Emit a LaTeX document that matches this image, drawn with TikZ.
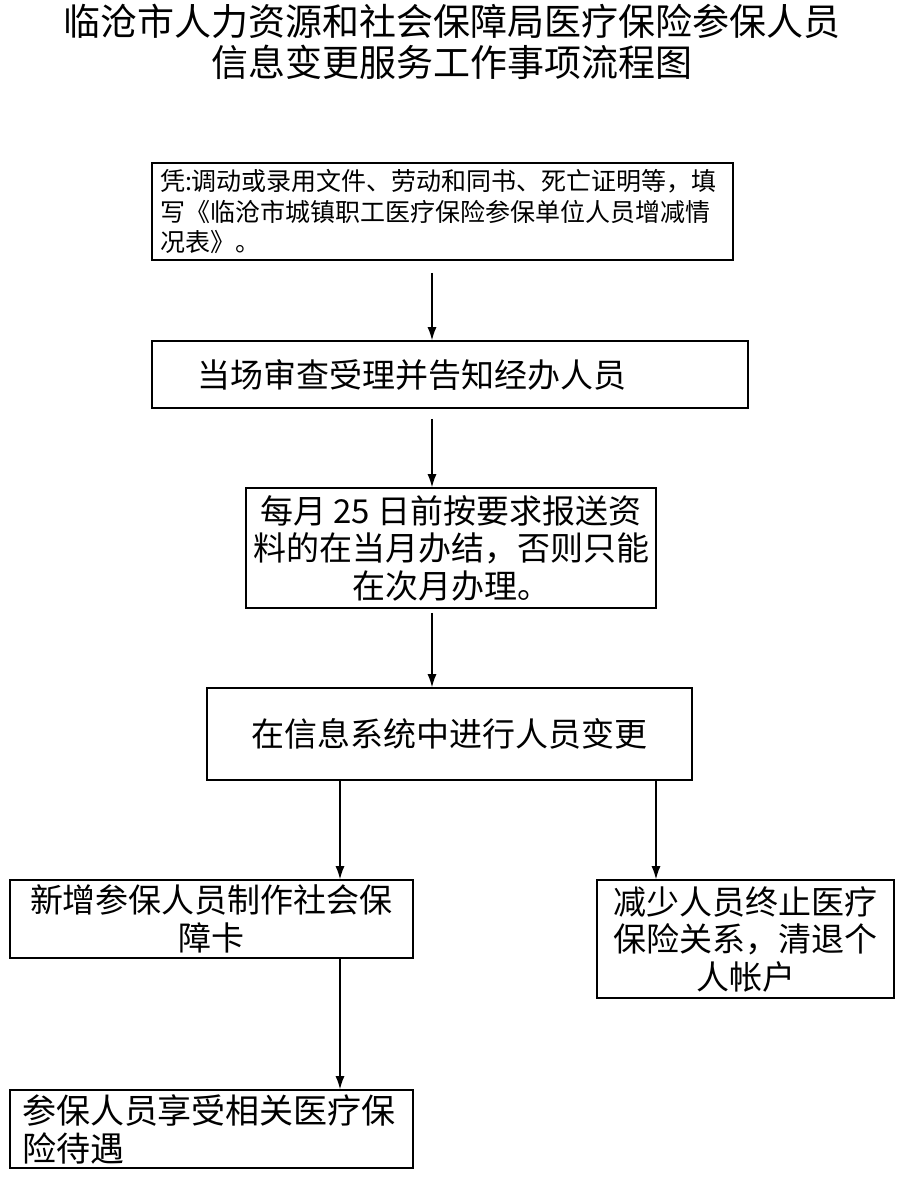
\documentclass[tikz,border=0pt]{standalone}
\usepackage{fontspec}
\setmainfont{Noto Sans CJK SC}
\usetikzlibrary{shapes,arrows.meta}

\begin{document}
\begin{tikzpicture}[x=1pt, y=-1pt, >={Latex[length=13pt,width=9pt]}]
    \tikzstyle{block} = [rectangle, draw, line width=1.6pt, inner sep=0pt,
        font=\fontsize{33}{37.5}\selectfont]
    \tikzstyle{line} = [draw, line width=1.3pt, ->]

    \useasboundingbox (0,0) rectangle (905,1181);

    \node [font=\fontsize{37}{41}\selectfont, align=center] (title) at (452,42)
        {临沧市人力资源和社会保障局医疗保险参保人员\\信息变更服务工作事项流程图};

    \node [block, minimum width=581pt, minimum height=97pt, text width=565pt, align=left,
        font=\fontsize{25}{30.5}\selectfont] (apply) at (442.5,211.5)
        {凭:调动或录用文件、劳动和同书、死亡证明等，填\\写《临沧市城镇职工医疗保险参保单位人员增减情\\况表》。};
    \node [block, minimum width=596pt, minimum height=67pt, text width=506pt, align=left] (accept) at (450,374.5)
        {当场审查受理并告知经办人员};
    \node [block, minimum width=410pt, minimum height=120pt, align=center] (submit) at (451,548)
        {每月 25 日前按要求报送资\\料的在当月办结，否则只能\\在次月办理。};
    \node [block, minimum width=485pt, minimum height=92pt] (change) at (449.5,734)
        {在信息系统中进行人员变更};
    \node [block, minimum width=403pt, minimum height=78pt, align=center] (add) at (211.5,919)
        {新增参保人员制作社会保\\障卡};
    \node [block, minimum width=297pt, minimum height=118pt, align=center] (reduce) at (745.5,939)
        {减少人员终止医疗\\保险关系，清退个\\人帐户};
    \node [block, minimum width=403pt, minimum height=78pt, text width=379pt, align=left,
        font=\fontsize{34}{38}\selectfont] (enjoy) at (211.5,1129)
        {参保人员享受相关医疗保\\险待遇};

    \coordinate (mid) at (432,0);
    \coordinate (lft) at (340,0);
    \coordinate (rgt) at (656,0);

    \path [line] ([yshift=-12pt]apply.south -| mid) -- (accept.north -| mid);
    \path [line] ([yshift=-10pt]accept.south -| mid) -- (submit.north -| mid);
    \path [line] ([yshift=-4pt]submit.south -| mid) -- (change.north -| mid);
    \path [line] (change.south -| lft) -- (add.north -| lft);
    \path [line] (change.south -| rgt) -- (reduce.north -| rgt);
    \path [line] (add.south -| lft) -- (enjoy.north -| lft);
\end{tikzpicture}
\end{document}
